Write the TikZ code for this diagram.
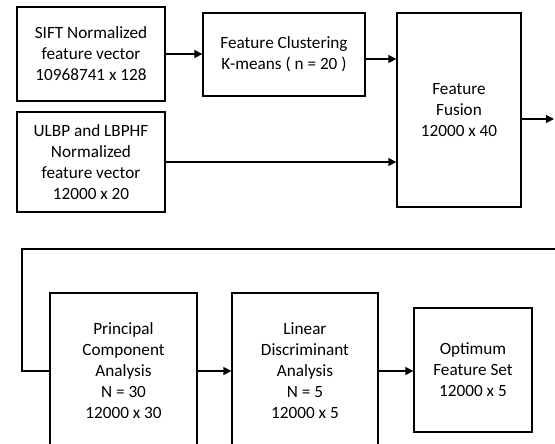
\documentclass[tikz,border=0pt]{standalone}
\usepackage{fontspec}
\setmainfont{Carlito}
\usetikzlibrary{arrows.meta,calc}
\begin{document}
\begin{tikzpicture}[x=1pt,y=-1pt,
  box/.style={draw=black, line width=1.3pt, align=center, inner sep=0pt,
    font=\fontsize{17.2}{21}\selectfont},
  conn/.style={line width=1.3pt},
  arr/.style={conn, -{Triangle[length=8pt,width=8pt]}}]
\useasboundingbox (0,0) rectangle (555,444);
\clip (0,0) rectangle (555,444);
\node[box, minimum width=148pt, minimum height=94pt] (sift) at (91,54)
  {SIFT Normalized\\feature vector\\10968741 x 128};
\node[box, minimum width=148pt, minimum height=100pt] (ulbp) at (91,162)
  {ULBP and LBPHF\\Normalized\\feature vector\\12000 x 20};
\node[box, minimum width=162pt, minimum height=83pt] (clus) at (284,54.5)
  {Feature Clustering\\K-means ( n = 20 )};
\node[box, minimum width=124pt, minimum height=194pt] (fus) at (459,110)
  {Feature\\Fusion\\12000 x 40};
\node[box, minimum width=147pt, minimum height=156pt] (pca) at (123.5,371)
  {Principal\\Component\\Analysis\\N = 30\\12000 x 30};
\node[box, minimum width=146pt, minimum height=156pt] (lda) at (305,371)
  {Linear\\Discriminant\\Analysis\\N = 5\\12000 x 5};
\node[box, minimum width=118pt, minimum height=124pt] (opt) at (473,370)
  {Optimum\\Feature Set\\12000 x 5};
\coordinate (fout) at (554,119);
\coordinate (r1) at (556,249);
\coordinate (r2) at (22,249);
\draw[arr] (sift.east) -- (sift.east -| clus.west);
\coordinate (c1) at ($(clus.east)+(0,4.5)$);
\draw[arr] (c1) -- (c1 -| fus.west);
\draw[arr] (ulbp.east) -- (ulbp.east -| fus.west);
\draw[arr] (fout -| fus.east) -- (fout);
\draw[conn] (r1) -- (r2) |- (pca.west);
\draw[arr] (pca.east) -- (lda.west);
\draw[arr] (lda.east) -- (lda.east -| opt.west);
\end{tikzpicture}
\end{document}
